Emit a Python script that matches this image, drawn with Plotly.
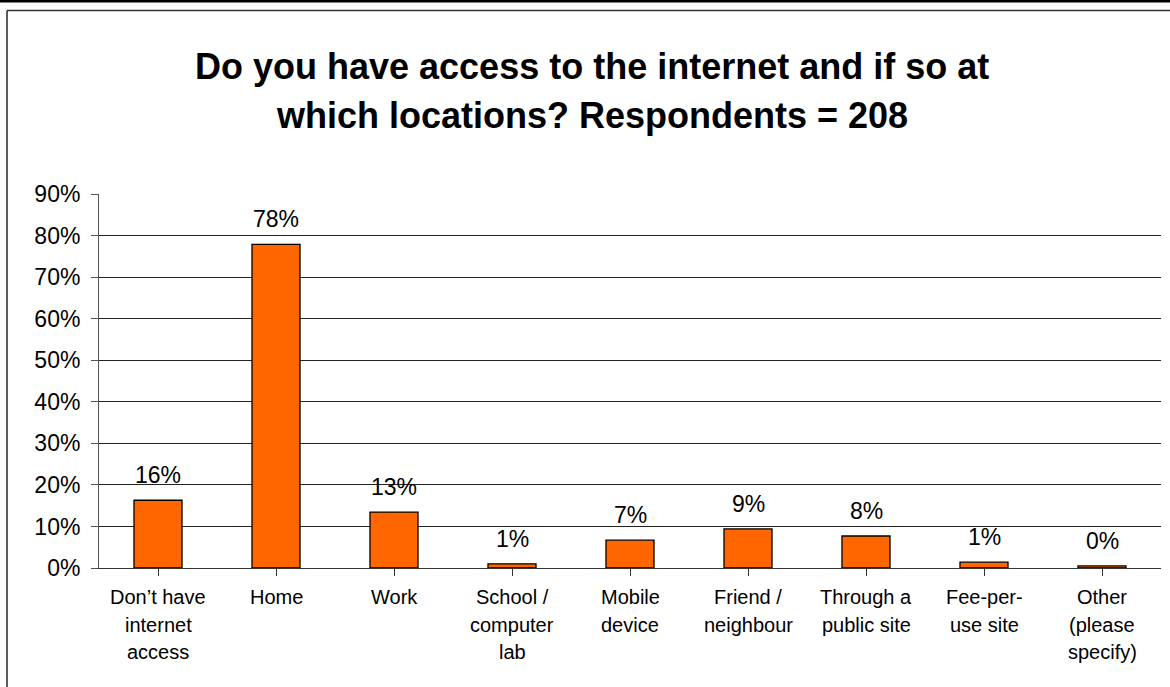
import plotly.graph_objects as go

# Survey results: share of respondents (%) for each access location
categories = [
    "Don’t have<br>internet<br>access",
    "Home",
    "Work",
    "School /<br>computer<br>lab",
    "Mobile<br>device",
    "Friend /<br>neighbour",
    "Through a<br>public site",
    "Fee-per-<br>use site",
    "Other<br>(please<br>specify)",
]
shares = [16.3, 77.9, 13.46, 1.0, 6.7, 9.4, 7.7, 1.4, 0.5]
y_ticks = [0, 10, 20, 30, 40, 50, 60, 70, 80, 90]
y_tick_text = [f"{v}%" for v in y_ticks]

title_lines = [
    "Do you have access to the internet and if so at",
    "which locations? Respondents = 208",
]

W, H = 1170, 687
ML, MR, MT, MB = 99, 9, 194, 119
PW, PH = W - ML - MR, H - MT - MB
FONT = "Liberation Sans, Arial, sans-serif"


def px_x(px):
    return (px - ML) / PW


def px_y(py):
    return (H - MB - py) / PH


fig = go.Figure()
fig.add_trace(go.Bar(
    x=list(range(len(categories))),
    y=shares,
    marker=dict(color="#FF6600", line=dict(color="#000000", width=1.3)),
    hoverinfo="skip",
))

annotations = []
# value labels above bars
for i, v in enumerate(shares):
    annotations.append(dict(
        x=i, y=v, xref="x", yref="y", text=f"{v:.0f}%", showarrow=False,
        yanchor="middle", yshift=25,
        font=dict(family=FONT, size=23, color="#000000"),
    ))
# category labels, one annotation per line for wider line spacing
for i, cat in enumerate(categories):
    for j, line in enumerate(cat.split("<br>")):
        annotations.append(dict(
            x=i, y=px_y(597 + 27.5 * j), xref="x", yref="paper", text=line,
            showarrow=False, yanchor="middle", xanchor="center",
            font=dict(family=FONT, size=20, color="#000000"),
        ))
# two-line bold title
for j, line in enumerate(title_lines):
    annotations.append(dict(
        x=px_x(592), y=px_y(66 + 49 * j), xref="paper", yref="paper",
        text=f"<b>{line}</b>", showarrow=False, yanchor="middle", xanchor="center",
        font=dict(family=FONT, size=36, color="#000000"),
    ))

shapes = [
    # black rule along the top edge
    dict(type="rect", xref="paper", yref="paper", x0=px_x(0), x1=px_x(W),
         y0=px_y(0), y1=px_y(2.5), fillcolor="#000000", line=dict(width=0), layer="above"),
    # chart frame
    dict(type="line", xref="paper", yref="paper", x0=px_x(7), x1=px_x(W + 5),
         y0=px_y(10.5), y1=px_y(10.5), line=dict(color="#333333", width=1.6)),
    dict(type="line", xref="paper", yref="paper", x0=px_x(7), x1=px_x(7),
         y0=px_y(10.5), y1=px_y(H + 5), line=dict(color="#333333", width=1.6)),
]

fig.update_layout(
    width=W, height=H,
    margin=dict(l=ML, r=MR, t=MT, b=MB, pad=0),
    paper_bgcolor="#FFFFFF", plot_bgcolor="#FFFFFF",
    bargap=0.593,
    showlegend=False,
    annotations=annotations,
    shapes=shapes,
    font=dict(family=FONT, color="#000000"),
)
fig.update_xaxes(
    range=[-0.5, len(categories) - 0.5],
    tickmode="array", tickvals=list(range(len(categories))),
    showticklabels=False, tickson="boundaries",
    ticks="outside", ticklen=7, tickcolor="#333333", tickwidth=1,
    showline=True, linecolor="#333333", linewidth=1,
    showgrid=False, zeroline=False,
)
fig.update_yaxes(
    range=[0, 90], tickmode="array", tickvals=y_ticks, ticktext=y_tick_text,
    ticks="outside", ticklen=7, tickcolor="#555555", tickwidth=1,
    ticklabelstandoff=6,
    tickfont=dict(family=FONT, size=23, color="#000000"),
    showline=True, linecolor="#555555", linewidth=1,
    showgrid=True, gridcolor="#222222", gridwidth=1, zeroline=False,
)

fig.write_html("out.html")
